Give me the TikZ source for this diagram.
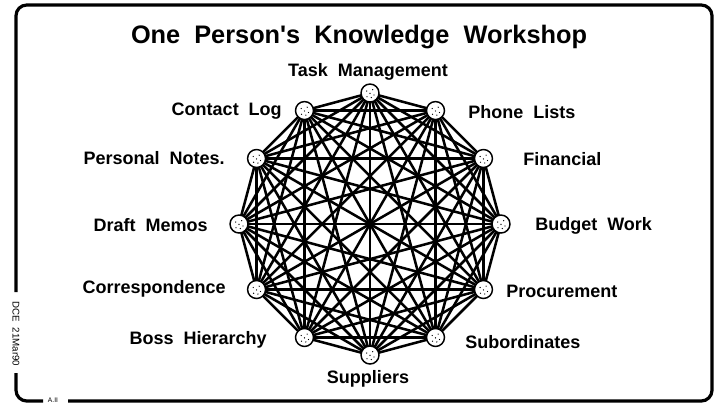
\documentclass[tikz,border=0pt]{standalone}
\usepackage{fontspec}
\setsansfont{Liberation Sans}[WordSpace=2]
\usetikzlibrary{calc}
\tikzset{
    frame/.style={line width=2.4pt, rounded corners=8pt},
    link/.style={line width=1.9pt},
    hub/.style={circle, draw, fill=white, line width=1.1pt, minimum size=13.5pt, inner sep=0pt,
      path picture={
        \foreach \a/\b in {-2.5/1.5, 2/2.5, 0/-0.3, 3/-1.5, -2.2/-2.8, 1/-3.4}
          \fill[black] (path picture bounding box.center) ++(\a pt,\b pt) circle (0.5pt);
      }},
    lbl/.style={font=\sffamily\bfseries\fontsize{13.5}{15}\selectfont, inner sep=0pt},
  }

\begin{document}
\begin{tikzpicture}[x=0.75pt, y=-0.75pt]
				  %cadre et titre
				  \useasboundingbox (0,0) rectangle (715,405);
				  \draw[frame] (16,292) -- (16,5) -- (712,5) -- (712,401) -- (68,401);
				  \draw[frame] (43,401) -- (16,401) -- (16,373);
				  \node[font=\sffamily\fontsize{7.3}{8}\selectfont, rotate=-90] (date) at (16,334) {DCE 21Mar90};
				  \node[font=\sffamily\fontsize{5}{6}\selectfont, inner sep=0pt] (ref) at (53,400) {A.II};
				  \node[lbl, font=\sffamily\bfseries\fontsize{19}{22}\selectfont] (title) at (359,37) {One Person\textquotesingle s Knowledge Workshop};
				  %sommets du dodecagone
				  \foreach \i in {0,...,11}
				    \coordinate (p\i) at ($(370,224)+({-90+30*\i}:131)$);
				  %toutes les aretes
				  \foreach \i in {0,...,11}
				    \foreach \j in {0,...,11}
				      {\ifnum\i<\j \draw[link] (p\i) -- (p\j); \fi}
				  \foreach \i in {0,...,11}
				    \node[hub] (n\i) at (p\i) {};
				  %etiquettes
				  \node[lbl] (task) at (368,72) {Task Management};
				  \node[lbl, anchor=west] (phone) at (468,112) {Phone Lists};
				  \node[lbl, anchor=west] (fin) at (523,159) {Financial};
				  \node[lbl, anchor=west] (budget) at (535,226) {Budget Work};
				  \node[lbl, anchor=west] (procure) at (506,291) {Procurement};
				  \node[lbl, anchor=west] (subord) at (465,342) {Subordinates};
				  \node[lbl] (suppl) at (368,379) {Suppliers};
				  \node[lbl, anchor=east] (boss) at (267,340) {Boss Hierarchy};
				  \node[lbl, anchor=east] (corresp) at (226,289) {Correspondence};
				  \node[lbl, anchor=east] (draft) at (208,225) {Draft Memos};
				  \node[lbl, anchor=east] (notes) at (225,158) {Personal Notes.};
				  \node[lbl, anchor=east] (contact) at (282,111) {Contact Log};
\end{tikzpicture}
\end{document}
